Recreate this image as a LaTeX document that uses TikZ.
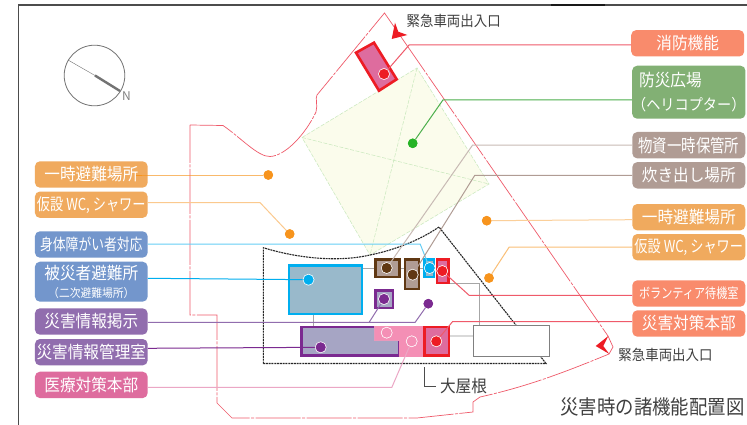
\documentclass[tikz,border=0pt]{standalone}
\usepackage{fontspec}
\setmainfont{Noto Sans CJK JP}
\newfontfamily\condfont[FakeStretch=0.92]{Noto Sans CJK JP}
\newfontfamily\narrowfont[FakeStretch=0.8]{Noto Sans CJK JP}
\newcommand{\fs}[1]{\fontsize{#1}{#1}\selectfont}
\definecolor{cOrange}{HTML}{F0AA5E}
\definecolor{cDot}{HTML}{F7941D}
\definecolor{cBlue}{HTML}{7396CC}
\definecolor{cCyan}{HTML}{00AEEF}
\definecolor{cPurple}{HTML}{916DAE}
\definecolor{cDeep}{HTML}{7B2A90}
\definecolor{cPink}{HTML}{DE6C9E}
\definecolor{cSalmon}{HTML}{F98B6C}
\definecolor{cLeaf}{HTML}{82B074}
\definecolor{cTaupe}{HTML}{B09C94}
\definecolor{cBrown}{HTML}{603813}
\definecolor{cRed}{HTML}{ED1C24}
\definecolor{cSite}{HTML}{EF5A6A}
\definecolor{cSoft}{HTML}{F48FB5}
\definecolor{cHall}{HTML}{99B9CB}
\definecolor{cLilac}{HTML}{A6A5C4}
\definecolor{cPlaza}{HTML}{FBFCEC}
\definecolor{cPlazaLine}{HTML}{C8E8BC}
\tikzset{
 lab/.style={fill=#1,rounded corners=5pt,text=white,inner sep=0pt,minimum width=112.7pt,minimum height=26.4pt,font=\condfont\fs{17},align=center},
 labr/.style={lab=#1,minimum width=113pt},
 room/.style 2 args={draw=#1,fill=#2,line width=2.6pt},
 dot/.style={circle,fill=#1,draw=white,line width=.5pt,inner sep=0pt,minimum size=11pt},
 plain/.style={circle,fill=#1,inner sep=0pt,minimum size=9.5pt},
 conn/.style={draw=#1,line width=1pt},
 gray link/.style={draw=black!35,line width=.8pt},
 site/.style={draw=cSite,line width=.7pt,dash pattern=on 45pt off 1.5pt on 3pt off 1.5pt},
 plaza/.style={draw=cPlazaLine,line width=.5pt,dash pattern=on 4pt off 1.5pt},
 roof/.style={draw=black!85,line width=1.1pt,dash pattern=on 2pt off .8pt},
 cap text/.style={text=black!75,inner sep=0pt,font=\condfont\fs{#1}}
}
\begin{document}
\begin{tikzpicture}[x=1pt,y=-1pt]
\useasboundingbox[fill=white] (0,0) rectangle (747,425);
% frame
\draw[black!70,line width=1.2pt] (18.5,425) -- (18.5,5) -- (747,5);
\draw[black!90,line width=2pt] (551,5) -- (605,5);
% compass
\draw[black!55,line width=.8pt] (94.5,75.5) circle[radius=30.3];
\draw[black!55,line width=.4pt] (68,60) -- (95,75.5);
\draw[black!55,line width=2.4pt] (95,75.5) -- (120,91);
\node[text=black!50,inner sep=0pt,font=\fs{12}] (north) at (126.5,96) {N};
% plaza
\draw[plaza,fill=cPlaza] (302,137.5) -- (417,68) -- (489,184) -- (370,255) -- cycle;
\draw[plaza] (417,68) -- (370,255) (302,137.5) -- (489,184);
% site
\draw[site] (190,125) -- (223,125.5) .. controls (240,137) and (258,157) .. (270,156.5)
 .. controls (285,156) and (305,135) .. (316,112) .. controls (318,105) and (315,98) .. (317,95)
 -- (384.5,13) -- (608,336) -- (613,347) -- (609,354) .. controls (570,370) and (530,386) .. (480,397)
 -- (473,402) -- (473,412) -- (417,418) -- (232,418) -- (217,403) -- (217,315) -- (190,315) -- cycle;
% roof
\draw[roof] (263.3,363.5) -- (263.3,247.7) .. controls (300,259) and (340,262) .. (370,255)
 .. controls (395,250) and (420,240) .. (439,227) -- (546,363.5) -- cycle;
% entrances
\fill[cRed] (395,22.7) -- (398.3,31.7) -- (407.3,35) -- (391.7,39) -- cycle;
\fill[cRed] (595.7,346) -- (608.3,336) -- (603.3,346) -- (609.3,354) -- cycle;
% grey links
\draw[gray link] (363,268.3) -- (374,268.3) (400.5,268.3) -- (403.5,268.3) (420,268.3) -- (423.5,268.3);
\draw[gray link] (313,315) -- (313,325.7);
\draw[gray link] (450,283.3) -- (479.3,283.3) -- (479.3,325);
\draw[black!15,line width=2pt] (450,336) -- (473.3,336);
% rooms
\draw[black!50,line width=.8pt,fill=white] (473.3,325) rectangle (549.3,356.3);
\draw[room={cRed}{cPink}] (374,42.7) -- (356,52.7) -- (379,90.7) -- (396.7,79.3) -- cycle;
\draw[room={cCyan}{cHall}] (289,265.5) rectangle (362,314);
\draw[room={cBrown}{cTaupe}] (375.3,259.3) rectangle (399.5,277);
\draw[room={cBrown}{cTaupe}] (404.8,259.3) rectangle (419,289);
\draw[room={cCyan}{cHall}] (424.5,259.3) rectangle (434,277);
\draw[room={cRed}{cPink}] (437,259.3) rectangle (448.3,283);
\draw[room={cDeep}{cLilac}] (375.5,290.5) rectangle (393,308);
\draw[room={cDeep}{cLilac}] (301.3,327) rectangle (399,355.5);
\fill[cSoft] (374,326) rectangle (399,340);
\draw[cPink!70,line width=.8pt] (374,326) -- (374,340) -- (399,340);
\fill[cSoft] (399,325.7) rectangle (423.3,357);
\draw[room={cRed}{cPink}] (424.6,327) rectangle (449,355.7);
% labels
\node[lab=cOrange] (evacL) at (91.3,174.5) {一時避難場所};
\node[lab=cOrange] (tempL) at (91.3,204.7) {\narrowfont\fs{16.5}仮設 WC, シャワー};
\node[lab=cBlue] (access) at (91.3,244.5) {\narrowfont\fs{16}身体障がい者対応};
\node[lab=cBlue,minimum height=40pt] (shelter) at (91.3,281.7) {被災者避難所\\[1pt]{\fs{11.7}（二次避難場所）}};
\node[lab=cPurple] (board) at (91.3,321.5) {災害情報掲示};
\node[lab=cPurple] (info) at (91.3,352.2) {災害情報管理室};
\node[lab=cPink] (medic) at (91.3,384.9) {医療対策本部};
\node[labr=cSalmon] (fire) at (687.7,43.3) {消防機能};
\node[labr=cLeaf,minimum height=53pt,align=left] (heli) at (688.8,92.2) {\hspace*{7pt}防災広場\\[7pt]{\fs{15.4}（ヘリコプター）}};
\node[labr=cTaupe] (store) at (688.8,145.2) {\narrowfont\fs{18}物資一時保管所};
\node[labr=cTaupe] (cook) at (688.8,175.3) {炊き出し場所};
\node[labr=cOrange] (evacR) at (688.8,217.2) {一時避難場所};
\node[labr=cOrange] (tempR) at (688.8,247.2) {\narrowfont\fs{16.5}仮設 WC, シャワー};
\node[labr=cSalmon] (vol) at (688.8,293.5) {\narrowfont\fs{13.9}ボランティア待機室};
\node[labr=cSalmon] (hq) at (688.8,323.5) {災害対策本部};
% dots
\node[plain=cDot] (dEvacL) at (268.3,175) {};
\node[plain=cDot] (dTempL) at (289.7,234) {};
\node[plain=cDot] (dEvacR) at (486.7,220.7) {};
\node[plain=cDot] (dTempR) at (489,278) {};
\node[plain=green!65!black!85] (dHeli) at (412.7,143.3) {};
\node[plain=cDeep] (dBoardA) at (428.3,303.7) {};
\node[dot=cRed] (dFire) at (384,74) {};
\node[dot=cCyan] (dShelter) at (308.5,279.7) {};
\node[dot=cBrown] (dStore) at (386.7,268) {};
\node[dot=cBrown] (dCook) at (412.7,274.7) {};
\node[dot=cCyan] (dAccess) at (429.7,268) {};
\node[dot=cRed] (dVol) at (442.3,271) {};
\node[dot=cDeep] (dBoardB) at (384,299) {};
\node[dot=cDeep] (dInfo) at (320.7,347.3) {};
\node[dot=cSoft] (dSoft) at (386.7,332.7) {};
\node[dot=cSoft] (dMedic) at (411.7,341.3) {};
\node[dot=cRed] (dHq) at (436.3,341.3) {};
% connectors
\draw[conn=cDot] (dEvacL) -- (evacL.east |- dEvacL) -- ++(-12,0);
\draw[conn=cDot!50!white] ([yshift=2pt]tempL.east) -- ++(112.3,0) -- (dTempL);
\draw[conn=cCyan!60!white] ([yshift=.5pt]access.east) -- ++(272.3,0) -- (dAccess);
\draw[conn=cCyan] ([yshift=3.4pt]shelter.east) -- (dShelter);
\draw[conn=cPurple] ([yshift=-.8pt]board.east) -- ++(267.3,0) -- (dBoardA);
\draw[conn=cPurple] ([xshift=221.3pt,yshift=-.8pt]board.east) -- (dBoardB);
\draw[conn=cDeep] ([yshift=3.9pt]info.east) -- (dInfo);
\draw[conn=cPink!60!white] ([yshift=-2.4pt]medic.east) -- ++(244,0) -- (dMedic);
\draw[conn=cSite] ([yshift=-1.7pt]fire.west) -- ++(-221.9,0) -- (dFire);
\draw[conn=green!55!black!70] ([yshift=-7.8pt]heli.west) -- ++(-189,0) -- (dHeli);
\draw[conn=cTaupe!70!white] (store.west) -- ++(-159.6,0) -- (dStore);
\draw[conn=cTaupe] (cook.west) -- ++(-157.3,0) -- (dCook);
\draw[conn=cDot!45!white] ([yshift=-2.5pt]evacR.west) -- (dEvacR);
\draw[conn=cDot!60!white] (tempR.west) -- ++(-123,0) -- (dTempR);
\draw[conn=cSite] ([yshift=-1.8pt]vol.west) -- ++(-163,0) -- (dVol);
\draw[conn=cSite] ([yshift=1.8pt]hq.west) -- ++(-179.6,0) -- (dHq);
% redraw dots above connectors
\node[plain=cDot] at (dEvacL) {};
\node[plain=cDot] at (dTempL) {};
\node[plain=cDot] at (dEvacR) {};
\node[plain=cDot] at (dTempR) {};
\node[plain=green!65!black!85] at (dHeli) {};
\node[plain=cDeep] at (dBoardA) {};
\node[dot=cRed] at (dFire) {};
\node[dot=cCyan] at (dShelter) {};
\node[dot=cBrown] at (dStore) {};
\node[dot=cBrown] at (dCook) {};
\node[dot=cCyan] at (dAccess) {};
\node[dot=cRed] at (dVol) {};
\node[dot=cDeep] at (dBoardB) {};
\node[dot=cDeep] at (dInfo) {};
\node[dot=cSoft] at (dSoft) {};
\node[dot=cSoft] at (dMedic) {};
\node[dot=cRed] at (dHq) {};
% captions
\draw[black!70,line width=.8pt] (424.3,367) -- (424.3,386.7) -- (435.7,386.7);
\node[cap text=17] (roofcap) at (463.5,386) {大屋根};
\node[cap text=14.6] (gateN) at (453.7,20.5) {緊急車両出入口};
\node[cap text=14.6] (gateS) at (665.5,355) {緊急車両出入口};
\node[cap text=20] (title) at (652.5,407) {災害時の諸機能配置図};
\end{tikzpicture}
\end{document}
